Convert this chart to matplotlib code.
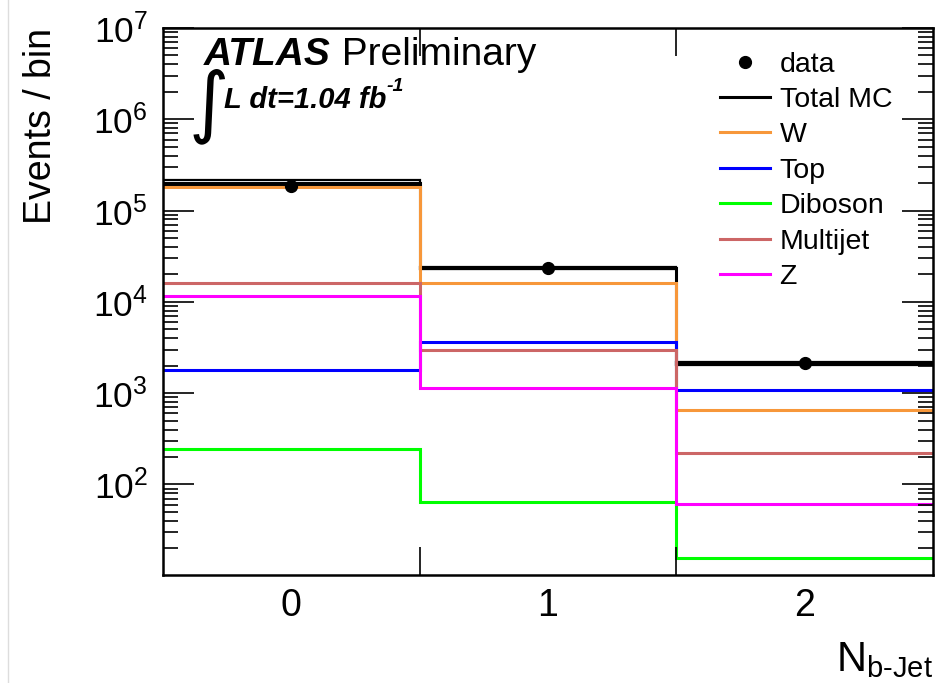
import matplotlib
matplotlib.use('Agg')
import matplotlib.pyplot as plt
from matplotlib.lines import Line2D
from matplotlib.ticker import LogLocator, FixedLocator, NullFormatter
import numpy as np

plt.rcParams['font.family'] = ['Liberation Sans', 'DejaVu Sans']
plt.rcParams['mathtext.fontset'] = 'custom'
plt.rcParams['mathtext.rm'] = 'Liberation Sans'
plt.rcParams['mathtext.it'] = 'Liberation Sans:italic'
plt.rcParams['mathtext.bf'] = 'Liberation Sans:bold'

# b-jet multiplicity bins
bin_edges = [-0.5, 0.5, 1.5, 2.5]
bin_labels = ['0', '1', '2']
y_major = [1e2, 1e3, 1e4, 1e5, 1e6, 1e7]

data = [1.84e5, 2.35e4, 2.15e3]
total_mc = [2.0e5, 2.35e4, 2.12e3]
total_lo = [1.85e5, 2.28e4, 2.03e3]
total_hi = [2.16e5, 2.43e4, 2.22e3]

w_jets = [1.8e5, 1.6e4, 662]
top = [1.79e3, 3.6e3, 1.08e3]
diboson = [247, 64, 15.8]
multijet = [1.6e4, 2.97e3, 221]
z_jets = [1.17e4, 1.14e3, 61]

samples = [
    ('W', w_jets, '#f7973a'),
    ('Top', top, '#0000ff'),
    ('Diboson', diboson, '#00ff00'),
    ('Multijet', multijet, '#cc6666'),
    ('Z', z_jets, '#ff00ff'),
]

centers = 0.5 * (np.array(bin_edges[:-1]) + np.array(bin_edges[1:]))

fig = plt.figure(figsize=(9.41, 6.83), dpi=100)
ax = fig.add_axes([163 / 941, 1 - 575 / 683, 770 / 941, 547 / 683])

# total MC: step line plus hollow uncertainty box
ax.stairs(total_mc, bin_edges, baseline=None, color='black', lw=2.2)
ax.bar(centers, np.array(total_hi) - np.array(total_lo), bottom=total_lo,
       width=1.0, fill=False, edgecolor='black', lw=1.6)

for name, vals, col in samples:
    ax.stairs(vals, bin_edges, baseline=None, color=col, lw=2.2)

ax.plot(centers, data, 'o', color='black', ms=8.5, zorder=5)

ax.set_yscale('log')
ax.set_ylim(10.2, 1e7)
ax.set_xlim(-0.5, 2.5)

ax.xaxis.set_major_locator(FixedLocator(centers))
ax.set_xticklabels(bin_labels)
ax.xaxis.set_minor_locator(FixedLocator([0.5, 1.5]))
ax.tick_params(axis='x', which='major', length=0, pad=9, labelsize=27)
ax.tick_params(axis='x', which='minor', length=20, width=1.2, direction='in',
               top=True, bottom=True)

ax.yaxis.set_major_locator(FixedLocator(y_major))
ax.yaxis.set_minor_locator(LogLocator(base=10, subs=np.arange(2, 10), numticks=20))
ax.yaxis.set_minor_formatter(NullFormatter())
ax.tick_params(axis='y', which='major', length=22, width=1.2, direction='in',
               left=True, right=True, labelsize=25.5, pad=11)
ax.tick_params(axis='y', which='minor', length=11, width=1.2, direction='in',
               left=True, right=True)

for s in ax.spines.values():
    s.set_linewidth(1.8)

ax.set_ylabel('Events / bin', fontsize=27, loc='top')
ax.yaxis.set_label_coords((59 - 163) / 770, 1.0)
ax.text(1.0, (575 - 671) / 547, r'N$_{\mathrm{b\text{-}Jet}}$', transform=ax.transAxes,
        fontsize=30, ha='right', va='baseline')

# ATLAS label
t1 = ax.text(0.053, 0.951, 'ATLAS', transform=ax.transAxes, fontsize=28,
             fontweight='bold', style='italic', va='center', ha='left')
ax.annotate(' Preliminary', xy=(1, 0.5), xycoords=t1, fontsize=28,
            va='center', ha='left')
ax.text(0.033, 0.858, '\u222b', transform=ax.transAxes, fontsize=56,
        family='DejaVu Sans', va='center', ha='left')
t2 = ax.text(0.079, 0.868, 'L dt=1.04 fb', transform=ax.transAxes, fontsize=21,
             fontweight='bold', style='italic', va='center', ha='left')
ax.annotate('-1', xy=(1, 1), xycoords=t2, fontsize=14, fontweight='bold',
            style='italic', va='center', ha='left')

handles = [Line2D([], [], marker='o', color='black', ls='none', ms=8.5),
           Line2D([], [], color='black', lw=2.2)]
labels = ['data', 'Total MC']
for name, vals, col in samples:
    handles.append(Line2D([], [], color=col, lw=2.2))
    labels.append(name)
ax.legend(handles, labels, loc='upper left', bbox_to_anchor=(0.723, 0.957),
          frameon=False, fontsize=20.5, handlelength=1.75, handletextpad=0.35,
          labelspacing=0.33, borderpad=0, borderaxespad=0)

fig.add_artist(Line2D([8 / 941, 8 / 941], [0, 1], color='#dddddd', lw=1))

fig.savefig('out.png', dpi=100)
